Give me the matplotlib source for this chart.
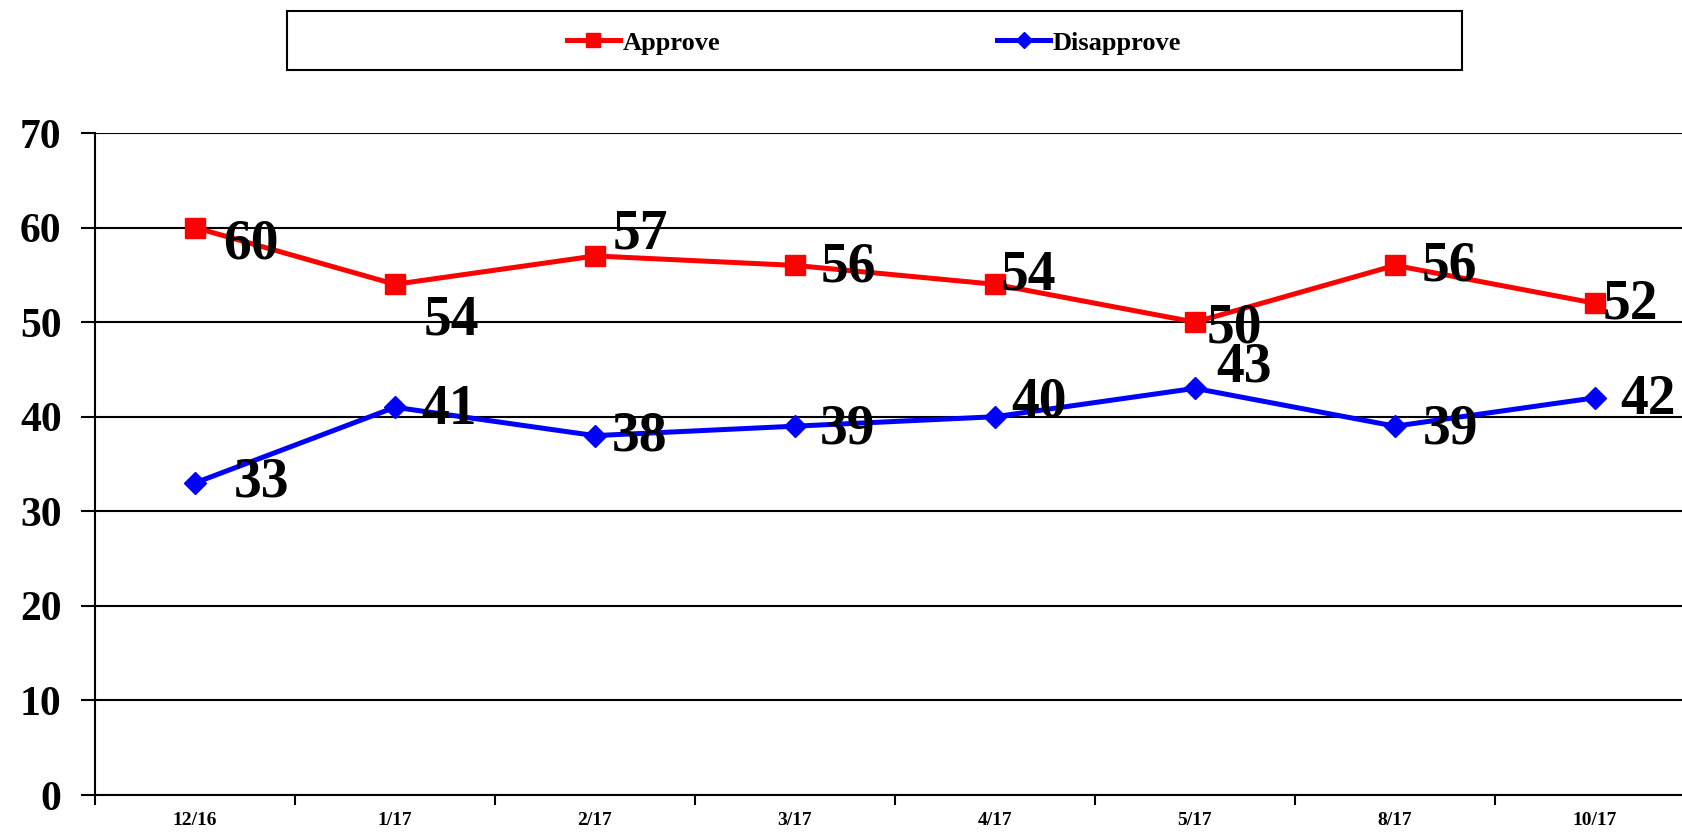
import numpy as np
import matplotlib.pyplot as plt
from matplotlib.patches import Rectangle

# datos
meses = ['12/16', '1/17', '2/17', '3/17', '4/17', '5/17', '8/17', '10/17']
aprueba = [60, 54, 57, 56, 54, 50, 56, 52]
desaprueba = [33, 41, 38, 39, 40, 43, 39, 42]

# posicion de las etiquetas (pixeles respecto al punto)
off_aprueba = [(56, -17), (56, -36), (45, 21), (53, -2), (33, 9), (39, -6), (54, -1), (35, -1)]
off_desaprueba = [(66, 0), (54, -3), (45, -1), (53, -3), (44, 14), (49, 21), (56, -3), (53, -2)]

plt.rcParams['font.family'] = ['Liberation Serif', 'DejaVu Serif']
plt.rcParams['font.weight'] = 'bold'

W, H = 1683, 832
fig = plt.figure(figsize=(W/100, H/100), dpi=100)
ax = fig.add_axes([95/W, 1-795/H, 1600/W, (795-133)/H])

x = np.arange(len(meses))
ax.plot(x, aprueba, color='#ff0000', lw=3.6, marker='s', ms=15, label='Approve', zorder=3)
ax.plot(x, desaprueba, color='#0000ff', lw=3.6, marker='D', ms=11, label='Disapprove', zorder=3)

for i in range(len(meses)):
    ax.annotate(str(aprueba[i]), (x[i], aprueba[i]), xytext=off_aprueba[i], textcoords='offset pixels',
                ha='center', va='center', fontsize=40, fontweight='bold', zorder=5)
    ax.annotate(str(desaprueba[i]), (x[i], desaprueba[i]), xytext=off_desaprueba[i], textcoords='offset pixels',
                ha='center', va='center', fontsize=40, fontweight='bold', zorder=5)

ax.set_xlim(-0.5, 7.5)
ax.set_ylim(0, 70)
ax.set_yticks(range(0, 71, 10))
ax.yaxis.grid(True, color='black', lw=1.5)
ax.set_axisbelow(True)
ax.set_xticks(np.arange(-0.5, 7.5, 1))
ax.set_xticklabels([])
ax.set_xticks(x, minor=True)
ax.set_xticklabels(meses, minor=True, fontsize=14, fontweight='bold')
ax.tick_params(axis='x', which='minor', length=0, pad=12)
ax.tick_params(axis='x', which='major', length=7, width=1.5, direction='out')
ax.tick_params(axis='y', length=10, width=1.5, labelsize=30, pad=14)
for s in ['top', 'right']:
    ax.spines[s].set_visible(False)
ax.spines['left'].set_linewidth(1.5)
ax.spines['bottom'].set_linewidth(1.5)

# leyenda
fig.add_artist(Rectangle((287/W, 1-70/H), (1462-287)/W, 59/H, transform=fig.transFigure,
                         fill=False, edgecolor='black', lw=1.5))
fig.legend(loc='center', bbox_to_anchor=(874/W, 1-43/H), ncol=2, frameon=False,
           prop={'size': 19, 'weight': 'bold'}, handlelength=2.0, columnspacing=10.5,
           markerscale=0.7, handletextpad=0.1)

fig.savefig('out.png', dpi=100)
